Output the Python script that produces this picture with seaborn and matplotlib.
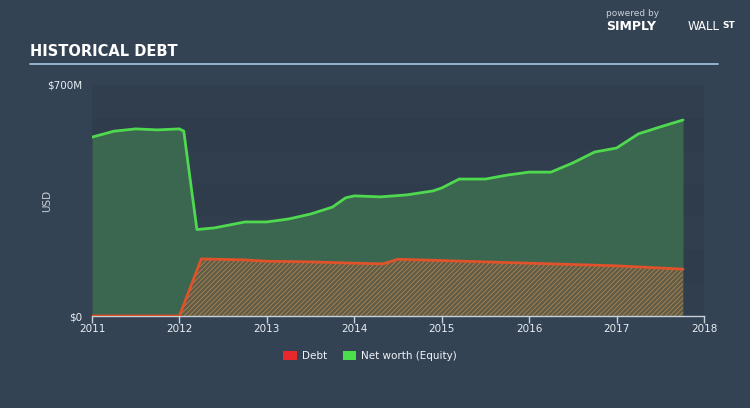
import matplotlib
matplotlib.use("Agg")
import matplotlib.pyplot as plt
import seaborn as sns
import pandas as pd
import numpy as np
from matplotlib.patches import Patch

# ---- data (USD millions) ----
equity_years = [2011.0, 2011.25, 2011.5, 2011.75, 2012.0, 2012.05, 2012.12, 2012.2, 2012.4, 2012.75,
                2013.0, 2013.25, 2013.5, 2013.75, 2013.9, 2014.0, 2014.3, 2014.6, 2014.9,
                2015.0, 2015.2, 2015.5, 2015.75, 2016.0, 2016.25, 2016.5, 2016.75,
                2017.0, 2017.25, 2017.5, 2017.76]
equity_vals = [542, 560, 567, 564, 567, 560, 420, 262, 267, 285,
               285, 294, 309, 330, 358, 364, 361, 367, 379,
               388, 415, 415, 427, 436, 436, 464, 497,
               509, 552, 573, 594]
debt_years = [2011.0, 2012.0, 2012.25, 2012.75, 2013.0, 2013.5, 2014.0, 2014.33, 2014.5,
              2015.0, 2016.0, 2017.0, 2017.76]
debt_vals = [0, 0, 173, 170, 166, 164, 160, 158, 172, 168, 160, 152, 142]
x_ticks = [2011, 2012, 2013, 2014, 2015, 2016, 2017, 2018]
y_ticks = [0, 700]
y_tick_labels = ["$0", "$700M"]

BG = "#344354"
PLOT_BG = "#2f3c4c"
GREEN = "#4fd94f"
RED = "#e0522a"

sns.set_theme(style="dark")
plt.rcParams["font.family"] = ["DejaVu Sans"]
plt.rcParams["hatch.linewidth"] = 0.6

fig = plt.figure(figsize=(7.5, 4.08), dpi=100, facecolor=BG)
ax = fig.add_axes([92 / 750, 1 - 316 / 408, (704 - 92) / 750, (316 - 85) / 408])
ax.set_facecolor(PLOT_BG)
for i in range(0, 7, 2):
    ax.axhspan(i * 100, i * 100 + 100, color="#313e4e", lw=0, zorder=0)

eq = pd.DataFrame({"year": equity_years, "value": equity_vals})
de = pd.DataFrame({"year": debt_years, "value": debt_vals})

ax.fill_between(eq["year"], eq["value"], color="#3b6750", lw=0, zorder=1)
ax.fill_between(de["year"], de["value"], facecolor="#5f5c48", edgecolor="#b08550",
                hatch="///////", lw=0, zorder=2)
sns.lineplot(data=eq, x="year", y="value", ax=ax, color=GREEN, lw=2, zorder=4,
             label="Net worth (Equity)", legend=False)
sns.lineplot(data=de, x="year", y="value", ax=ax, color=RED, lw=2, zorder=5,
             label="Debt", legend=False)

ax.set_xlim(2011, 2018)
ax.set_ylim(0, 700)
ax.set_xticks(x_ticks)
ax.set_xticklabels([str(t) for t in x_ticks], color="#e8eef4", fontsize=7.5)
ax.set_yticks(y_ticks)
ax.set_yticklabels(y_tick_labels, color="#e8eef4", fontsize=7.5)
ax.tick_params(axis="x", length=5, color="#c8d0d8", width=1, pad=1, bottom=True)
ax.tick_params(axis="y", length=0, pad=7)
ax.grid(False)
for s in ["top", "right", "left"]:
    ax.spines[s].set_visible(False)
ax.spines["bottom"].set_color("#c8d0d8")
ax.spines["bottom"].set_linewidth(1)
ax.set_xlabel("")
ax.set_ylabel("USD", color="#c8d0d8", fontsize=7.5)
ax.yaxis.set_label_coords(-(92 - 52) / 612, 0.5)

# title and rule
fig.text(30 / 750, 1 - 52 / 408, "HISTORICAL DEBT", color="white", fontsize=10.5,
         fontweight="bold", family=["Liberation Sans Narrow", "DejaVu Sans"], va="center")
fig.add_artist(plt.Line2D([30 / 750, 718 / 750], [1 - 64 / 408] * 2, color="#a9c3dc", lw=1.2))

# branding
fig.text(606 / 750, 1 - 14 / 408, "powered by", color="#c8d0d8", fontsize=6.5, va="center")
fig.text(606 / 750, 1 - 27 / 408, "SIMPLY", color="white", fontsize=9, fontweight="bold", va="center")
fig.text(688 / 750, 1 - 27 / 408, "WALL", color="white", fontsize=8.5, va="center")
fig.text(722 / 750, 1 - 26 / 408, "ST", color="white", fontsize=6.5, fontweight="bold", va="center")

# legend
handles = [Patch(facecolor="#e8292b", edgecolor="none", label="Debt"),
           Patch(facecolor="#4be04b", edgecolor="none", label="Net worth (Equity)")]
leg = fig.legend(handles=handles, loc="center", bbox_to_anchor=(370 / 750, 1 - 356 / 408),
                 ncol=2, frameon=False, fontsize=7.5, handlelength=1.3, handleheight=1.0,
                 columnspacing=1.5, handletextpad=0.5)
for t in leg.get_texts():
    t.set_color("#f0f4f8")

fig.savefig("out.png", dpi=100, facecolor=BG)
